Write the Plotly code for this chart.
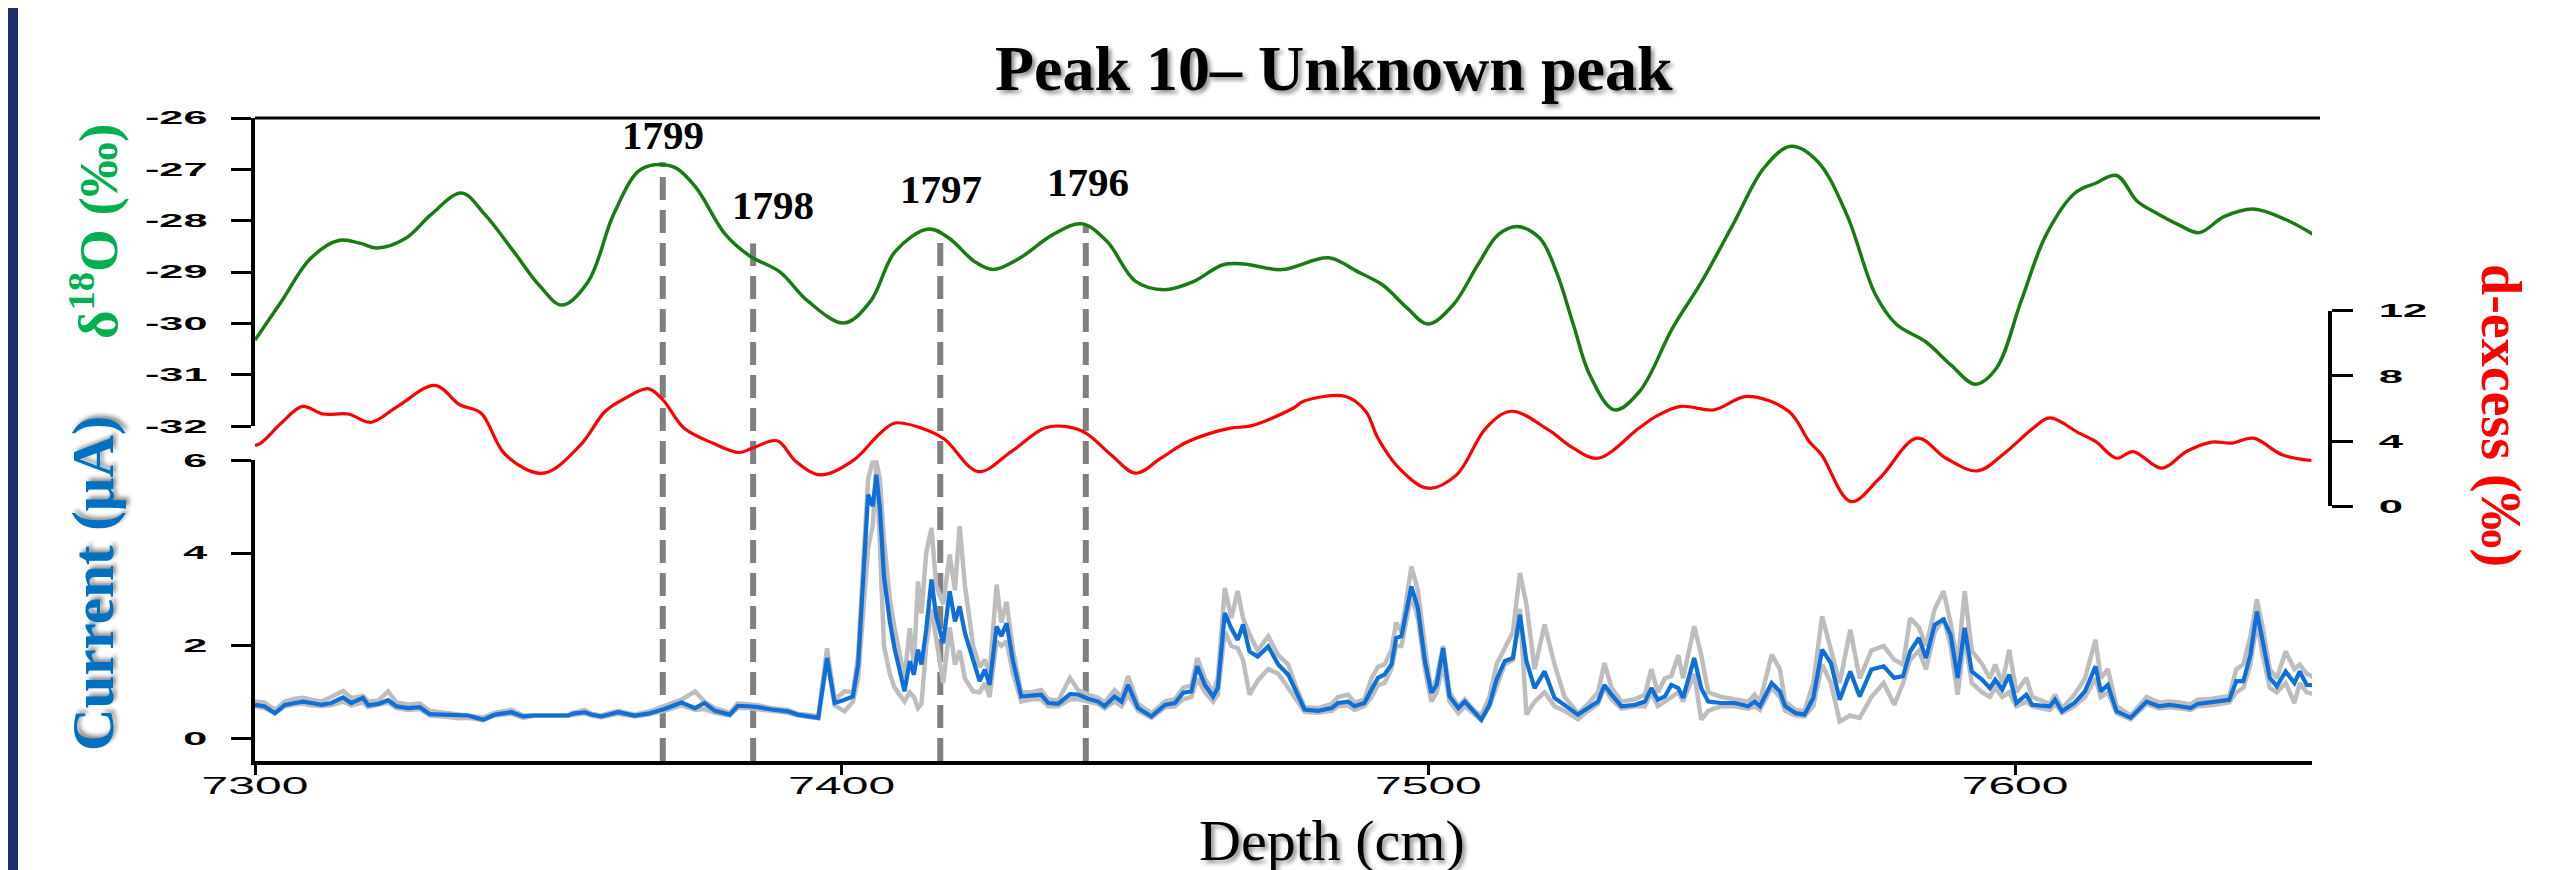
import plotly.graph_objects as go

# ---------------- data ----------------
depth_d18o = [7300.0, 7304.5, 7309.5, 7314.4, 7318.0, 7320.8, 7325.7, 7330.0, 7335.2, 7339.2,
              7344.1, 7348.4, 7352.3, 7356.8, 7361.1, 7365.3, 7368.1, 7371.7, 7375.2, 7380.2,
              7384.4, 7389.4, 7394.3, 7400.4, 7404.9, 7409.1, 7414.8, 7418.3, 7422.6, 7425.8,
              7430.3, 7436.0, 7440.9, 7445.2, 7450.1, 7455.0, 7460.0, 7464.9, 7468.5, 7475.0,
              7483.0, 7487.9, 7492.2, 7496.4, 7499.9, 7504.2, 7508.4, 7511.9, 7515.2, 7519.0,
              7521.8, 7524.7, 7527.5, 7531.7, 7536.0, 7541.6, 7546.6, 7552.2, 7557.2, 7561.8,
              7566.3, 7571.3, 7576.2, 7579.8, 7584.7, 7589.0, 7593.2, 7596.8, 7601.0, 7605.3,
              7610.2, 7613.7, 7617.3, 7620.8, 7623.6, 7627.9, 7631.4, 7635.6, 7640.6, 7646.2,
              7651.6]
d18o = [-30.32, -29.57, -28.73, -28.38, -28.44, -28.53, -28.34, -27.88, -27.46, -27.88,
        -28.60, -29.25, -29.64, -29.18, -27.88, -27.04, -26.91, -26.97, -27.36, -28.27,
        -28.69, -28.99, -29.57, -29.99, -29.57, -28.60, -28.16, -28.34, -28.79, -28.95,
        -28.73, -28.27, -28.06, -28.40, -29.18, -29.34, -29.18, -28.86, -28.84, -28.95,
        -28.72, -28.99, -29.25, -29.70, -30.01, -29.64, -28.86, -28.27, -28.11, -28.34,
        -28.99, -30.02, -31.00, -31.68, -31.32, -30.09, -29.18, -28.01, -26.97, -26.55,
        -26.84, -27.88, -29.44, -30.02, -30.35, -30.80, -31.18, -30.87, -29.57, -28.27,
        -27.46, -27.27, -27.12, -27.62, -27.82, -28.08, -28.23, -27.92, -27.77, -27.98,
        -28.32]

depth_dex = [7300.0, 7301.0, 7304.5, 7308.1, 7311.6, 7315.9, 7319.7, 7324.3, 7330.7, 7334.9,
             7338.5, 7342.7, 7349.1, 7355.5, 7359.7, 7363.2, 7367.0, 7369.5, 7373.1, 7378.0,
             7382.5, 7384.8, 7389.0, 7392.2, 7396.4, 7402.1, 7406.3, 7409.1, 7414.8, 7417.6,
             7423.3, 7428.9, 7434.6, 7438.1, 7441.6, 7445.9, 7450.1, 7454.4, 7458.6, 7462.9,
             7466.3, 7469.9, 7477.0, 7478.7, 7485.8, 7489.3, 7491.4, 7495.0, 7499.9, 7504.8,
             7509.8, 7514.1, 7520.4, 7524.7, 7528.9, 7535.9, 7538.8, 7543.0, 7548.7, 7554.3,
             7561.4, 7564.9, 7567.0, 7572.0, 7576.9, 7583.3, 7588.2, 7593.6, 7598.2, 7603.1,
             7605.9, 7610.9, 7613.7, 7617.3, 7620.1, 7625.0, 7629.2, 7633.5, 7637.0, 7640.6,
             7645.5, 7650.5]
dexcess = [3.73, 3.88, 5.11, 6.13, 5.66, 5.66, 5.15, 6.13, 7.42, 6.23,
           5.72, 3.16, 2.03, 3.77, 5.83, 6.65, 7.22, 6.54, 4.80, 3.88,
           3.30, 3.57, 4.02, 2.75, 1.93, 2.85, 4.39, 5.11, 4.64, 4.10,
           2.13, 3.36, 4.80, 4.90, 4.49, 3.16, 2.03, 2.95, 3.90, 4.49,
           4.80, 4.95, 6.03, 6.44, 6.75, 5.83, 4.18, 2.34, 1.11, 1.93,
           4.80, 5.83, 4.70, 3.57, 2.95, 4.80, 5.52, 6.13, 5.92, 6.75,
           5.83, 3.98, 3.16, 0.29, 1.72, 4.18, 2.95, 2.17, 3.26, 4.80,
           5.42, 4.49, 3.98, 2.95, 3.36, 2.34, 3.36, 3.94, 3.88, 4.18,
           3.16, 2.81]

depth_cur = [7300.0, 7301.6, 7303.4, 7305.1, 7306.8, 7308.2, 7309.6, 7311.3, 7313.0, 7315.0,
             7316.4, 7318.4, 7319.3, 7321.0, 7322.7, 7324.1, 7326.1, 7328.1, 7329.8, 7332.3,
             7334.6, 7336.3, 7338.9, 7340.9, 7343.7, 7345.7, 7347.7, 7353.4, 7354.2, 7356.2,
             7357.3, 7359.0, 7361.9, 7364.7, 7367.0, 7369.8, 7372.7, 7375.0, 7376.6, 7378.4,
             7380.9, 7382.3, 7384.0, 7385.7, 7388.0, 7390.8, 7392.5, 7395.4, 7396.0, 7397.5,
             7398.8, 7400.5, 7401.9, 7402.8, 7404.5, 7405.3, 7405.9, 7406.5, 7407.2, 7408.2,
             7409.0, 7410.7, 7411.6, 7412.3, 7413.0, 7413.6, 7414.4, 7415.3, 7416.1, 7417.3,
             7418.4, 7419.3, 7420.1, 7421.0, 7422.4, 7423.5, 7424.4, 7425.2, 7426.4, 7427.2,
             7428.1, 7429.2, 7430.6, 7432.3, 7434.0, 7435.2, 7436.9, 7438.9, 7440.3, 7442.0,
             7443.7, 7444.8, 7446.5, 7447.7, 7448.8, 7450.5, 7452.8, 7455.1, 7456.8, 7458.2,
             7459.6, 7460.6, 7461.9, 7463.3, 7464.1, 7465.3, 7466.4, 7467.5, 7468.4, 7469.5,
             7470.9, 7472.7, 7474.4, 7476.1, 7477.2, 7478.9, 7481.2, 7483.5, 7484.6, 7486.3,
             7487.4, 7489.1, 7490.3, 7491.4, 7492.5, 7493.7, 7494.5, 7495.4, 7497.1, 7498.2,
             7499.4, 7500.5, 7501.4, 7502.5, 7503.6, 7505.1, 7506.2, 7507.9, 7509.0, 7510.4,
             7511.6, 7513.0, 7514.4, 7515.6, 7516.7, 7518.1, 7519.8, 7521.5, 7523.2, 7525.5,
             7527.2, 7528.9, 7530.0, 7531.2, 7532.9, 7535.2, 7536.9, 7538.0, 7539.1, 7540.3,
             7541.4, 7542.6, 7543.4, 7545.3, 7546.5, 7547.7, 7549.9, 7552.2, 7554.5, 7555.6,
             7556.5, 7558.5, 7559.9, 7560.8, 7562.6, 7564.1, 7565.6, 7567.1, 7568.6, 7570.1,
             7571.9, 7573.5, 7575.5, 7577.6, 7579.4, 7580.9, 7582.1, 7583.6, 7584.8, 7586.3,
             7587.8, 7589.0, 7590.2, 7591.4, 7592.6, 7594.4, 7595.7, 7596.6, 7597.8, 7599.0,
             7600.2, 7601.9, 7602.9, 7605.9, 7606.8, 7608.0, 7610.1, 7611.9, 7613.7, 7614.6,
             7615.8, 7617.3, 7619.7, 7622.4, 7624.5, 7626.3, 7628.1, 7629.9, 7631.1, 7633.5,
             7636.5, 7637.7, 7638.9, 7640.1, 7641.2, 7642.2, 7643.4, 7644.6, 7646.1, 7647.6,
             7648.5, 7649.7, 7651.2]
current_blue = [0.73, 0.70, 0.55, 0.73, 0.77, 0.80, 0.77, 0.73, 0.77, 0.89,
                0.77, 0.88, 0.72, 0.75, 0.83, 0.70, 0.66, 0.68, 0.53, 0.52,
                0.50, 0.50, 0.41, 0.52, 0.57, 0.48, 0.50, 0.50, 0.54, 0.57,
                0.52, 0.48, 0.57, 0.50, 0.54, 0.64, 0.78, 0.66, 0.77, 0.60,
                0.52, 0.71, 0.70, 0.68, 0.63, 0.59, 0.52, 0.48, 0.45, 1.74,
                0.77, 0.84, 0.91, 1.60, 5.26, 5.01, 5.69, 4.97, 3.50, 2.53,
                1.95, 1.02, 1.67, 1.38, 1.92, 1.60, 2.35, 3.43, 2.64, 2.06,
                3.18, 2.53, 2.85, 2.28, 1.67, 1.24, 1.49, 1.16, 2.42, 2.21,
                2.49, 1.67, 0.91, 0.93, 0.95, 0.77, 0.75, 0.96, 0.95, 0.86,
                0.80, 0.70, 0.91, 0.80, 1.16, 0.66, 0.48, 0.73, 0.77, 0.99,
                1.02, 1.56, 1.16, 0.91, 1.09, 2.71, 2.38, 2.13, 2.46, 1.88,
                1.77, 1.99, 1.60, 1.38, 1.09, 0.63, 0.60, 0.66, 0.77, 0.80,
                0.70, 0.77, 1.06, 1.31, 1.38, 1.60, 2.17, 2.21, 3.28, 2.82,
                1.67, 0.99, 1.16, 1.95, 0.91, 0.66, 0.80, 0.55, 0.41, 0.73,
                1.27, 1.67, 1.74, 2.67, 1.67, 1.09, 1.45, 0.88, 0.73, 0.52,
                0.66, 0.80, 1.16, 0.95, 0.70, 0.73, 0.80, 1.09, 0.84, 0.91,
                1.16, 1.09, 0.88, 1.74, 1.09, 0.80, 0.77, 0.77, 0.70, 0.80,
                0.70, 1.20, 1.02, 0.70, 0.55, 0.52, 0.88, 1.92, 1.63, 0.84,
                1.45, 0.91, 1.49, 1.56, 1.31, 1.35, 1.88, 2.17, 1.74, 2.46,
                2.57, 2.24, 1.31, 2.39, 1.45, 1.27, 1.09, 1.27, 1.06, 1.38,
                0.77, 0.95, 0.73, 0.70, 0.84, 0.59, 0.77, 1.02, 1.56, 1.02,
                1.16, 0.59, 0.45, 0.80, 0.70, 0.73, 0.70, 0.66, 0.75, 0.79,
                0.84, 1.24, 1.24, 1.81, 2.74, 2.10, 1.31, 1.13, 1.45, 1.20,
                1.45, 1.16, 1.15]
current_grey1 = [0.80, 0.78, 0.62, 0.80, 0.86, 0.88, 0.84, 0.80, 0.90, 1.03,
                 0.88, 0.92, 0.80, 0.82, 1.02, 0.78, 0.74, 0.76, 0.60, 0.56,
                 0.52, 0.50, 0.46, 0.56, 0.62, 0.50, 0.50, 0.50, 0.56, 0.62,
                 0.54, 0.50, 0.60, 0.52, 0.58, 0.70, 0.84, 1.02, 0.80, 0.66,
                 0.56, 0.76, 0.74, 0.72, 0.66, 0.62, 0.54, 0.50, 0.46, 1.95,
                 0.85, 1.02, 1.00, 1.80, 5.60, 5.98, 5.98, 5.60, 4.30, 3.00,
                 2.40, 1.30, 2.38, 1.60, 3.39, 2.70, 4.00, 4.54, 3.30, 2.90,
                 3.97, 3.20, 4.58, 3.30, 2.00, 1.55, 1.70, 1.40, 3.32, 2.50,
                 2.95, 1.90, 1.00, 1.00, 1.05, 0.85, 0.82, 1.31, 1.05, 0.95,
                 0.88, 0.78, 1.05, 0.90, 1.35, 0.75, 0.55, 0.80, 0.85, 1.10,
                 1.15, 1.74, 1.30, 1.00, 1.30, 3.25, 2.60, 3.18, 2.60, 2.25,
                 1.90, 2.21, 1.80, 1.60, 1.20, 0.68, 0.66, 0.75, 0.90, 0.95,
                 0.78, 0.85, 1.30, 1.55, 1.60, 1.90, 2.50, 2.30, 3.71, 3.20,
                 2.00, 1.00, 1.30, 2.00, 1.00, 0.70, 0.85, 0.60, 0.50, 0.90,
                 1.60, 1.95, 2.30, 3.57, 2.90, 1.50, 2.46, 1.60, 0.90, 0.55,
                 0.75, 1.00, 1.63, 1.10, 0.80, 0.85, 0.95, 1.50, 1.00, 1.30,
                 1.35, 1.80, 1.30, 2.42, 1.80, 1.00, 0.90, 0.85, 0.80, 0.95,
                 0.80, 1.81, 1.50, 0.80, 0.62, 0.60, 1.20, 2.64, 1.90, 1.20,
                 2.35, 1.30, 1.90, 2.00, 1.70, 1.60, 2.60, 2.40, 2.00, 2.80,
                 3.18, 2.50, 1.60, 3.18, 1.90, 1.60, 1.30, 1.60, 1.20, 1.92,
                 1.00, 1.31, 0.90, 0.75, 0.95, 0.65, 0.95, 1.30, 2.13, 1.30,
                 1.50, 0.70, 0.50, 0.90, 0.78, 0.80, 0.78, 0.74, 0.84, 0.86,
                 0.92, 1.50, 1.60, 2.20, 3.00, 2.40, 1.50, 1.30, 1.88, 1.50,
                 1.60, 1.40, 1.30]
current_grey2 = [0.70, 0.66, 0.55, 0.70, 0.74, 0.76, 0.72, 0.70, 0.72, 0.80,
                 0.72, 0.78, 0.68, 0.72, 0.78, 0.66, 0.62, 0.64, 0.50, 0.48,
                 0.44, 0.45, 0.40, 0.50, 0.54, 0.45, 0.50, 0.50, 0.52, 0.55,
                 0.50, 0.46, 0.54, 0.48, 0.52, 0.60, 0.72, 0.62, 0.64, 0.56,
                 0.50, 0.66, 0.66, 0.64, 0.60, 0.56, 0.50, 0.46, 0.44, 1.70,
                 0.72, 0.59, 0.80, 1.30, 4.11, 4.60, 5.90, 4.20, 2.00, 1.40,
                 1.10, 0.80, 1.00, 0.90, 0.66, 0.75, 2.00, 2.80, 2.20, 1.20,
                 2.40, 1.60, 1.90, 1.30, 1.02, 1.00, 1.20, 0.90, 2.10, 2.00,
                 2.10, 1.40, 0.80, 0.85, 0.85, 0.70, 0.70, 0.85, 0.85, 0.80,
                 0.75, 0.65, 0.80, 0.70, 0.95, 0.60, 0.45, 0.68, 0.70, 0.85,
                 0.90, 1.30, 1.00, 0.80, 0.95, 2.30, 2.00, 1.95, 1.70, 0.95,
                 1.25, 1.50, 1.40, 1.10, 0.90, 0.58, 0.56, 0.60, 0.70, 0.72,
                 0.62, 0.70, 0.90, 1.15, 1.20, 1.50, 2.00, 2.00, 3.10, 2.60,
                 1.50, 0.80, 1.00, 1.60, 0.80, 0.55, 0.70, 0.50, 0.40, 0.70,
                 1.10, 1.60, 1.70, 2.80, 0.52, 0.80, 1.00, 0.70, 0.60, 0.42,
                 0.60, 0.75, 1.10, 0.85, 0.65, 0.70, 0.70, 1.00, 0.70, 0.80,
                 0.90, 1.00, 0.80, 1.40, 0.41, 0.60, 0.70, 0.70, 0.65, 0.70,
                 0.62, 1.10, 0.90, 0.60, 0.50, 0.48, 0.70, 1.60, 1.20, 0.37,
                 0.50, 0.45, 0.90, 1.20, 0.73, 1.20, 1.70, 1.90, 1.50, 2.30,
                 2.60, 2.00, 0.95, 2.20, 1.20, 1.00, 0.90, 1.10, 0.90, 1.00,
                 0.70, 0.80, 0.70, 0.62, 0.75, 0.55, 0.70, 0.90, 1.30, 0.90,
                 1.00, 0.55, 0.42, 0.75, 0.65, 0.68, 0.65, 0.62, 0.70, 0.72,
                 0.78, 1.00, 1.10, 1.60, 2.50, 1.80, 1.10, 1.00, 1.20, 0.77,
                 1.20, 1.00, 0.95]

# volcanic / annual markers
marker_years = ["1799", "1798", "1797", "1796"]
marker_depth = [7369.5, 7384.9, 7416.8, 7441.6]      # dashed line depths (cm)
marker_top_d18o = [-26.86, -28.44, -28.30, -28.10]   # top end of each dashed line
label_depth = [7369.6, 7388.3, 7416.9, 7441.9]
label_d18o = [-26.33, -27.69, -27.38, -27.24]

x_ticks = [7300, 7400, 7500, 7600]
x_ticktext = ["7300", "7400", "7500", "7600"]
d18o_ticks = [-26, -27, -28, -29, -30, -31, -32]
d18o_ticktext = ["-26", "-27", "-28", "-29", "-30", "-31", "-32"]
cur_ticks = [0, 2, 4, 6]
cur_ticktext = ["0", "2", "4", "6"]
dex_ticks = [0, 4, 8, 12]
dex_ticktext = ["0", "4", "8", "12"]

assert len(depth_cur) == len(current_blue) == len(current_grey1) == len(current_grey2)
assert len(depth_d18o) == len(d18o) and len(depth_dex) == len(dexcess)

# ---------------- layout geometry ----------------
W, H = 2553, 870
L, R, T, B = 247, 231, 110, 117
PW, PH = W - L - R, H - T - B

X_RANGE = [7300, 7650.6]
X_DOM = [0, 0.99133]
CUR_DOM = [0, 0.4677]
CUR_RANGE = [-0.48, 6]
D18_DOM = [0.5205, 1.0]
D18_RANGE = [-32, -26]
DEX_DOM = [0.3961, 0.7003]
DEX_RANGE = [0, 12]

SERIF = "Liberation Serif, Times New Roman, serif"
SANS = "Liberation Sans, Arial, sans-serif"

fig = go.Figure()

fig.add_trace(go.Scatter(x=depth_cur, y=current_grey1, mode="lines",
                         line=dict(color="#BDBDBD", width=4.5), xaxis="x", yaxis="y",
                         showlegend=False, hoverinfo="skip"))
fig.add_trace(go.Scatter(x=depth_cur, y=current_grey2, mode="lines",
                         line=dict(color="#BDBDBD", width=4.5), xaxis="x", yaxis="y",
                         showlegend=False, hoverinfo="skip"))
fig.add_trace(go.Scatter(x=depth_cur, y=current_blue, mode="lines",
                         line=dict(color="#0F6FD8", width=4.2), xaxis="x", yaxis="y",
                         showlegend=False))
fig.add_trace(go.Scatter(x=depth_d18o, y=d18o, mode="lines",
                         line=dict(color="#1A7A14", width=3.5, shape="spline", smoothing=1.0),
                         xaxis="x", yaxis="y2", showlegend=False))
fig.add_trace(go.Scatter(x=depth_dex, y=dexcess, mode="lines",
                         line=dict(color="#FF0000", width=3.2, shape="spline", smoothing=1.0),
                         xaxis="x", yaxis="y3", showlegend=False))


def d18o_to_paper(v):
    return D18_DOM[0] + (v - D18_RANGE[0]) / (D18_RANGE[1] - D18_RANGE[0]) * (D18_DOM[1] - D18_DOM[0])


shapes = []
for d, top in zip(marker_depth, marker_top_d18o):
    shapes.append(dict(type="line", xref="x", yref="paper", x0=d, x1=d, y0=0,
                       y1=d18o_to_paper(top), layer="below",
                       line=dict(color="#808080", width=6, dash="23px,10px")))
# top frame line
shapes.append(dict(type="line", xref="paper", yref="paper", x0=0, x1=(2312 - L) / PW,
                   y0=1, y1=1, line=dict(color="black", width=3)))
# navy slide border on the left
shapes.append(dict(type="rect", xref="paper", yref="paper", x0=-L / PW, x1=(10 - L) / PW,
                   y0=-B / PH, y1=1 + T / PH, line=dict(width=0), fillcolor="#1F3068"))

annotations = []
for yr, d, v in zip(marker_years, label_depth, label_d18o):
    annotations.append(dict(text=yr, x=d, y=v, xref="x", yref="y2", showarrow=False,
                            xanchor="center", yanchor="middle",
                            font=dict(family=SERIF, size=41, color="black", weight="bold")))

SHADOW = "3px 3px 4px rgba(0,0,0,0.45)"


def px_x(px):
    return (px - L) / PW


def px_y(py):
    return (H - B - py) / PH


annotations += [
    dict(text="Peak 10– Unknown peak", x=px_x(1326), y=px_y(60), xref="paper", yref="paper",
         showarrow=False, xanchor="center", yanchor="middle",
         font=dict(family=SERIF, size=64, color="black", weight="bold", shadow=SHADOW)),
    dict(text="Depth (cm)", x=px_x(1324), y=px_y(832), xref="paper", yref="paper",
         showarrow=False, xanchor="center", yanchor="middle",
         font=dict(family=SERIF, size=58, color="black", shadow=SHADOW)),
    dict(text="δ<sup>18</sup>O (‰)", x=px_x(86), y=px_y(224), xref="paper", yref="paper",
         showarrow=False, xanchor="center", yanchor="middle", textangle=-90,
         font=dict(family=SERIF, size=55, color="#00B050", weight="bold")),
    dict(text="Current (μA)", x=px_x(85), y=px_y(576), xref="paper", yref="paper",
         showarrow=False, xanchor="center", yanchor="middle", textangle=-90,
         font=dict(family=SERIF, size=59, color="#0070C0", weight="bold", shadow=SHADOW)),
    dict(text="d-excess (‰)", x=px_x(2493), y=px_y(407), xref="paper", yref="paper",
         showarrow=False, xanchor="center", yanchor="middle", textangle=90,
         font=dict(family=SERIF, size=56, color="#FF0000", weight="bold")),
]

axis_common = dict(showgrid=False, zeroline=False, showline=True, linecolor="black",
                   ticks="outside", tickcolor="black")

fig.update_layout(
    width=W, height=H,
    margin=dict(l=L, r=R, t=T, b=B, pad=0),
    paper_bgcolor="white", plot_bgcolor="rgba(0,0,0,0)",
    showlegend=False,
    xaxis=dict(range=X_RANGE, domain=X_DOM, anchor="y", linewidth=3.5, ticklen=10, tickwidth=3,
               tickvals=x_ticks, ticktext=x_ticktext, ticklabelstandoff=-10,
               tickfont=dict(family=SANS, size=24, color="black"), **axis_common),
    yaxis=dict(range=CUR_RANGE, domain=CUR_DOM, anchor="x", linewidth=4, ticklen=20, tickwidth=3,
               tickvals=cur_ticks, ticktext=cur_ticktext, ticklabelstandoff=20,
               tickfont=dict(family=SANS, size=18, color="black", weight="bold"), **axis_common),
    yaxis2=dict(range=D18_RANGE, domain=D18_DOM, anchor="x", linewidth=4, ticklen=20, tickwidth=3,
                tickvals=d18o_ticks, ticktext=d18o_ticktext, ticklabelstandoff=20,
                tickfont=dict(family=SANS, size=18, color="black", weight="bold"), **axis_common),
    yaxis3=dict(range=DEX_RANGE, domain=DEX_DOM, anchor="free", position=1.0, side="right",
                linewidth=4, ticklen=21, tickwidth=3,
                tickvals=dex_ticks, ticktext=dex_ticktext, ticklabelstandoff=22,
                tickfont=dict(family=SANS, size=19, color="black", weight="bold"), **axis_common),
    shapes=shapes,
    annotations=annotations,
)

stretch_js = """
var gd = document.getElementById('{plot_id}');
function stretch(sel, s){
  var els = gd.querySelectorAll(sel);
  for (var i = 0; i < els.length; i++){
    var t = els[i];
    var x = parseFloat(t.getAttribute('x')) || 0;
    var tr = t.getAttribute('transform') || '';
    t.setAttribute('transform', tr + ' translate(' + x + ',0) scale(' + s + ',1) translate(' + (-x) + ',0)');
  }
}
stretch('g.xtick text', 2.0);
stretch('g.ytick text', 2.4);
stretch('g.y2tick text', 2.4);
stretch('g.y3tick text', 2.3);
"""

fig.write_html("out.html", post_script=stretch_js)
